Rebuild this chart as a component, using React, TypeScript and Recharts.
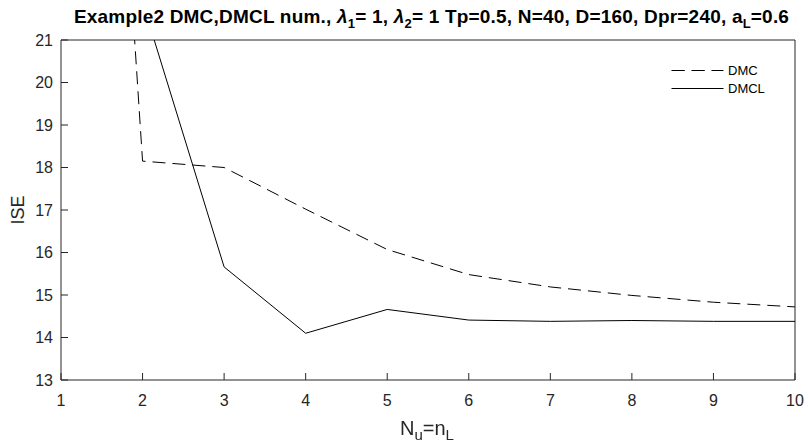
import React from 'react';
import { CartesianGrid, Line, LineChart, XAxis, YAxis } from 'recharts';

const nu = [1, 2, 3, 4, 5, 6, 7, 8, 9, 10];
const dmc = [47.5, 18.15, 18.0, 17.02, 16.07, 15.48, 15.19, 14.99, 14.83, 14.72];
const dmcl = [30, 21.89, 15.66, 14.1, 14.66, 14.41, 14.38, 14.4, 14.38, 14.38];
const xTicks = [1, 2, 3, 4, 5, 6, 7, 8, 9, 10];
const yTicks = [13, 14, 15, 16, 17, 18, 19, 20, 21];
const seriesNames = ['DMC', 'DMCL'];

const data = nu.map((n, i) => ({ n, dmc: dmc[i], dmcl: dmcl[i] }));

const FONT = "'Liberation Sans', Arial, Helvetica, sans-serif";
const AXIS = '#262626';
const DASH = '13 7';

// top and right edges of the axes box, taken from the chart's plot offset
const topEdge = (props: any) => {
  try {
    const offset = props && props.offset;
    return offset && typeof offset.top === 'number' ? [offset.top] : [];
  } catch (e) {
    return [];
  }
};
const rightEdge = (props: any) => {
  try {
    const offset = props && props.offset;
    return offset && typeof offset.left === 'number' && typeof offset.width === 'number'
      ? [offset.left + offset.width]
      : [];
  } catch (e) {
    return [];
  }
};

export default function App() {
  return (
    <div style={{ position: 'fixed', left: 0, top: 0, width: 804, height: 443, background: '#fff', fontFamily: FONT }}>
      {/* Title */}
      <div
        style={{
          position: 'absolute',
          left: 0,
          width: 863,
          top: 7,
          lineHeight: '19px',
          textAlign: 'center',
          fontSize: 19,
          letterSpacing: 0.2,
          fontWeight: 'bold',
          color: '#000',
          whiteSpace: 'nowrap',
        }}
      >
        Example2 DMC,DMCL num., <i>λ</i><sub style={{ fontSize: 13 }}>1</sub>= 1, <i>λ</i>
        <sub style={{ fontSize: 13 }}>2</sub>= 1 Tp=0.5, N=40, D=160, Dpr=240, a<sub style={{ fontSize: 13 }}>L</sub>=0.6
      </div>

      <LineChart width={804} height={443} data={data} margin={{ top: 40, right: 9, bottom: 33, left: 21 }}>
        <CartesianGrid
          stroke={AXIS}
          horizontalCoordinatesGenerator={topEdge}
          verticalCoordinatesGenerator={rightEdge}
        />
        <XAxis
          dataKey="n"
          type="number"
          domain={[1, 10]}
          ticks={xTicks}
          stroke={AXIS}
          tickSize={-7}
          tickMargin={22}
          height={30}
          tick={{ fill: AXIS, fontSize: 16, fontFamily: FONT }}
          interval={0}
          allowDataOverflow
        />
        <YAxis
          type="number"
          domain={[13, 21]}
          ticks={yTicks}
          stroke={AXIS}
          tickSize={-7}
          tickMargin={15}
          width={40}
          tick={{ fill: AXIS, fontSize: 16, fontFamily: FONT }}
          interval={0}
          allowDataOverflow
        />
        <Line
          type="linear"
          dataKey="dmc"
          name={seriesNames[0]}
          stroke="#000"
          strokeWidth={1}
          strokeDasharray={DASH}
          dot={false}
          isAnimationActive={false}
        />
        <Line
          type="linear"
          dataKey="dmcl"
          name={seriesNames[1]}
          stroke="#000"
          strokeWidth={1}
          dot={false}
          isAnimationActive={false}
        />
      </LineChart>

      {/* Legend */}
      <svg width={110} height={40} style={{ position: 'absolute', left: 668, top: 60, fontFamily: FONT }}>
        <line x1={3.5} y1={10.5} x2={55.5} y2={10.5} stroke="#000" strokeDasharray="13.3 6.7" />
        <text x={60} y={15} fontSize={13} fill="#000">{seriesNames[0]}</text>
        <line x1={3.5} y1={28.5} x2={55.5} y2={28.5} stroke="#000" />
        <text x={60} y={33} fontSize={13} fill="#000">{seriesNames[1]}</text>
      </svg>

      {/* Axis labels */}
      <div style={{ position: 'absolute', left: 400, top: 418, lineHeight: '20px', fontSize: 20, color: AXIS, whiteSpace: 'nowrap' }}>
        N<sub style={{ fontSize: 15 }}>u</sub>=n<sub style={{ fontSize: 15 }}>L</sub>
      </div>
      <div
        style={{
          position: 'absolute',
          left: 18,
          top: 210,
          fontSize: 18,
          color: AXIS,
          transform: 'translate(-50%, -50%) rotate(-90deg)',
          whiteSpace: 'nowrap',
        }}
      >
        ISE
      </div>
    </div>
  );
}
